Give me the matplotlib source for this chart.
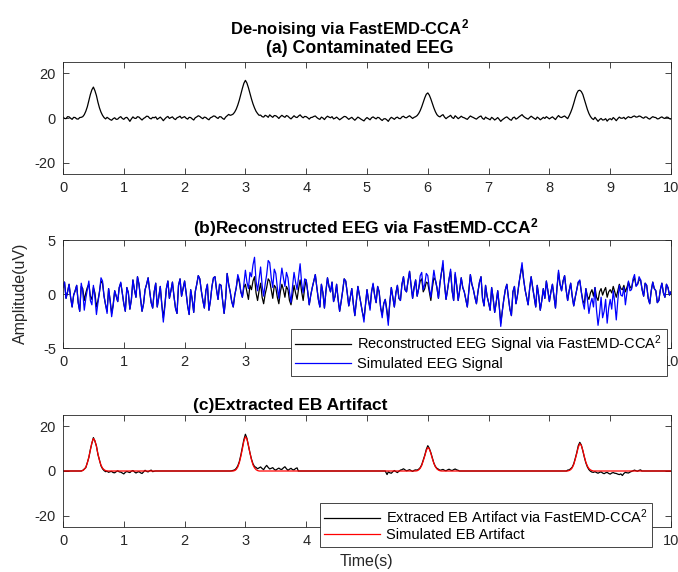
import numpy as np
import matplotlib
matplotlib.use("Agg")
import matplotlib.pyplot as plt

# ---------------- data ----------------
t_step = 0.025
t_eeg = [round(i * t_step, 3) for i in range(401)]

contaminated = [
    0.4, -0.2, -0.3, 0.6, 0.5, -0.1, -0.6, 0.3, 0.2, -0.4, -0.5, 0.2, 0.3, 0.6, 1.5, 3.0, 5.0, 7.8, 10.5, 12.6,
    13.8, 12.2, 10.0, 7.0, 4.5, 2.6, 1.2, 0.2, -0.4, 0.3, -0.2, -0.7, -1.0, -0.3, 0.1, -0.6, -0.5, 0.2, 0.6, -0.2,
    -0.6, 0.1, 0.3, -0.5, -1.5, -0.4, 0.5, -0.1, -0.2, 0.6, 0.4, -0.3, -0.9, -0.2, 0.2, 0.8, 0.7, -0.1, -0.4, 0.3,
    0.1, 0.5, -0.6, -0.1, 0.4, -0.3, -1.2, -0.4, 0.3, 0.7, -0.2, 0.2, 0.5, -0.3, -0.7, 0.1, 0.4, 0.8, -0.1, 0.3,
    0.6, -0.1, -0.5, 0.3, 0.2, -0.4, -0.9, 0.1, 0.5, 1.0, 0.7, 0.1, -0.3, 0.4, 0.2, -0.4, -0.8, 0.1, 0.4, 0.9,
    0.8, 0.2, -0.2, 0.6, 0.5, -0.2, -0.6, 0.4, 1.0, 1.6, 1.2, 1.4, 1.8, 2.7, 4.0, 5.8, 8.0, 10.6, 13.2, 15.5,
    16.8, 15.6, 13.5, 11.0, 8.5, 6.3, 4.5, 3.0, 2.0, 1.2, 1.3, 0.6, 0.4, 1.2, 0.9, 0.3, 1.4, 0.8, 0.3, 1.1,
    1.0, 0.5, -0.2, 0.6, 1.2, 0.7, 0.3, 1.1, 0.8, 0.1, -0.4, 0.3, 1.0, 0.4, 0.2, 0.9, 1.4, 0.6, 0.1, 0.7,
    0.6, 0.1, -0.5, 0.2, 0.3, 0.7, 0.9, 0.2, -0.3, -0.6, 0.4, 0.0, -0.7, 0.2, 0.8, 0.4, 0.1, 0.6, -0.4, -0.1,
    0.4, -0.2, -0.8, -0.3, 0.2, 0.7, 0.6, 0.0, -0.6, -0.1, 0.3, -0.4, -1.0, -0.3, 0.4, 0.0, -0.5, -0.9, -1.3, -0.4,
    0.2, -0.3, -0.8, 0.1, 0.5, 0.0, -0.4, 0.3, 0.1, -0.6, -1.1, -0.4, -0.3, -0.8, -1.5, -0.4, 0.3, -0.1, -0.6, 0.1,
    0.4, -0.2, -0.3, 0.5, 0.8, 0.2, 0.1, 0.6, 1.0, 0.4, -0.2, 0.3, 0.6, 1.1, 2.0, 3.3, 5.0, 7.0, 9.0, 10.6,
    11.2, 10.2, 8.5, 6.5, 4.5, 2.8, 1.5, 0.8, 0.5, 1.1, 1.5, 0.4, -0.3, 0.3, 0.7, 1.2, 0.2, -0.2, 1.0, 0.4,
    -0.3, 0.2, 0.8, 0.3, 0.1, -0.3, -0.6, 0.2, 0.9, 0.5, 0.2, -0.2, -0.5, 0.1, 0.6, 0.9, -0.2, -0.6, 0.4, -0.1,
    -0.4, -0.8, 0.3, -0.2, -0.9, -0.4, 0.2, -0.6, -1.5, -0.8, -0.3, 0.2, 0.5, -0.1, -0.7, -1.0, 0.1, 0.4, -0.5, -0.1,
    0.5, 1.0, 1.5, 0.7, 0.2, -0.2, -0.5, 0.2, 0.8, 0.3, -0.2, -0.6, 0.4, -0.1, -0.8, -0.3, 0.3, -0.2, 0.6, 0.1,
    -0.4, 0.1, 0.5, -0.1, -0.7, 0.3, 1.1, 0.4, 0.2, 0.6, 0.9, 0.3, -0.3, 1.0, 2.5, 4.3, 6.5, 8.9, 11.0, 12.2,
    12.4, 11.8, 10.5, 8.3, 6.0, 3.8, 2.0, 0.7, -0.2, -0.7, 0.3, -0.6, -1.5, -0.7, -0.2, -0.9, -0.8, -0.3, -1.4, -0.6,
    -0.3, -0.8, 0.2, -0.4, -1.2, -0.3, 0.4, -0.1, -0.1, 0.3, -0.5, 0.1, 0.6, 0.2, 0.2, 0.7, 0.9, 0.4, 0.5, 0.9,
    0.7, 0.2, -0.1, 0.5, 0.4, -0.2, -0.5, 0.1, 0.6, 0.3, 0.2, -0.4, -0.3, 0.2, 0.5, 0.0, -0.2, 0.4, 0.3, -0.3,
    -0.5]

simulated_eeg = [
    0.6, 1.1, -0.4, 0.2, 0.9, -0.3, -1.2, -0.1, 0.3, 0.8, -0.8, -1.6, 1.0, 0.2, -1.5, -0.4, 0.4, 1.2, -0.6, -1.0,
    0.8, -0.3, -1.9, -0.8, 0.2, 1.5, 1.2, -0.2, -1.0, -1.8, 0.5, -0.6, -2.1, -1.1, 0.3, -0.2, -0.7, 0.6, 1.1, 0.1,
    -0.9, -1.6, 0.6, 0.1, -1.4, -0.5, 1.3, 0.4, -0.3, 1.6, 0.9, -0.4, -1.6, -0.9, 0.4, 0.9, 1.5, 0.3, -0.8, -1.3,
    0.2, 1.0, -1.2, -0.3, 0.7, -1.0, -2.6, -1.2, 0.5, 1.2, -0.4, 0.3, 1.1, -0.2, -1.3, -1.8, 0.8, 1.4, -0.2, 0.5,
    1.2, 0.1, -1.1, -1.9, 0.4, -0.5, -1.7, 0.2, 0.9, 1.7, 1.4, 0.3, -0.6, -1.3, 0.3, 0.9, -1.5, -0.6, 0.7, 1.5,
    1.6, 0.4, -0.5, 0.9, 0.8, -0.6, -1.8, -0.4, 1.9, 0.9, 0.2, -0.7, -1.2, -0.1, 0.6, 1.8, 1.3, 0.2, -0.3, 0.9,
    2.2, 1.1, 0.5, 2.0, 1.6, 2.7, 3.4, 1.2, 0.3, 1.4, 2.5, 0.8, -0.2, 0.9, 1.8, 3.1, 2.9, 1.5, 0.6, 2.3,
    1.9, 0.6, -0.4, 1.2, 2.4, 1.5, 0.7, 2.0, 1.5, 0.2, -0.8, 0.7, 2.0, 1.1, 0.4, 1.6, 2.8, 1.0, 0.1, 1.4,
    1.3, 0.2, -1.0, -0.1, 0.6, 1.2, 1.8, 0.6, -0.5, -1.2, 0.9, 0.1, -1.3, 0.3, 1.5, 0.7, 0.2, 1.1, -0.7, -0.2,
    0.9, -0.5, -1.6, -0.7, 0.3, 1.4, 1.2, 0.1, -1.1, -0.3, 0.5, -0.9, -2.0, -0.6, 0.7, -0.1, -0.9, -1.7, -2.6, -1.0,
    0.4, -0.6, -1.5, 0.2, 1.0, -0.1, -0.8, 0.7, 0.2, -1.3, -2.2, -0.9, -0.5, -1.6, -2.9, -0.8, 0.6, -0.3, -1.2, 0.1,
    0.8, -0.4, -0.6, 0.9, 1.6, 0.4, 0.2, 1.2, 2.1, 0.8, -0.4, 0.6, 1.3, -0.2, 0.5, 1.7, 2.0, 0.4, 0.9, 1.9,
    1.7, 0.5, -0.3, 1.0, 2.2, 1.3, 0.6, -0.4, 1.0, 2.0, 3.1, 0.9, -0.5, 0.4, 1.4, 2.3, 0.3, -0.6, 2.0, 0.8,
    -0.6, 0.4, 1.5, 0.6, 0.2, -0.5, -1.2, 0.3, 1.8, 0.9, 0.4, -0.3, -0.9, 0.2, 1.1, 1.6, -0.4, -1.1, 0.8, -0.2,
    -0.8, -1.5, 0.6, -0.4, -1.7, -0.8, 0.3, -1.1, -3.0, -1.6, -0.5, 0.4, 0.9, -0.3, -1.4, -2.0, 0.2, 0.7, -0.9, -0.1,
    1.0, 1.9, 2.9, 1.4, 0.4, -0.3, -1.0, 0.5, 1.6, 0.6, -0.3, -1.2, 0.8, -0.2, -1.5, -0.6, 0.5, -0.4, 1.2, 0.3,
    -0.7, 0.2, 0.9, -0.2, -1.3, 0.6, 2.2, 0.9, 0.3, 1.2, 1.7, 0.4, -0.6, 0.3, 1.0, -0.2, -1.1, -0.3, 0.4, 1.1,
    1.3, 0.2, -0.8, -1.4, 0.5, -0.5, -1.8, -0.9, -0.4, -1.2, 0.6, -1.5, -2.9, -1.8, -0.3, -2.2, -1.6, -0.5, -2.7, -1.3,
    -0.5, -1.4, 0.3, -0.8, -2.4, -0.6, 0.8, -0.1, -0.2, 0.6, -1.0, 0.1, 1.2, 0.3, 0.4, 1.4, 1.8, 0.7, 0.9, 1.6,
    1.3, 0.4, -0.2, 1.0, 0.8, -0.4, -0.9, 0.3, 1.1, 0.5, 0.3, -0.8, -0.6, 0.4, 1.0, 0.1, -0.3, 0.9, 0.6, -0.1,
    0.2]

reconstructed_eeg = [
    0.6, 1.1, -0.4, 0.2, 0.9, -0.3, -1.2, -0.1, 0.3, 0.8, -0.8, -1.6, 0.7, 0.5, -0.6, 0.1, 0.6, 0.9, -0.2, -0.5,
    0.6, 0.1, -1.2, -0.6, 0.2, 1.2, 1.0, -0.2, -1.0, -1.6, 0.5, -0.6, -1.8, -1.0, 0.3, -0.2, -0.7, 0.6, 1.0, 0.1,
    -0.9, -1.6, 0.6, 0.1, -1.4, -0.5, 1.3, 0.4, -0.3, 1.6, 0.9, -0.4, -1.6, -0.9, 0.4, 0.9, 1.5, 0.3, -0.8, -1.3,
    0.2, 1.0, -1.2, -0.3, 0.7, -1.0, -2.2, -1.0, 0.5, 1.2, -0.4, 0.3, 1.1, -0.2, -1.3, -1.8, 0.8, 1.4, -0.2, 0.5,
    1.2, 0.1, -1.1, -1.9, 0.4, -0.5, -1.7, 0.2, 0.9, 1.7, 1.4, 0.3, -0.6, -1.3, 0.3, 0.9, -1.5, -0.6, 0.7, 1.5,
    1.6, 0.4, -0.5, 0.9, 0.8, -0.6, -1.8, -0.4, 1.9, 0.9, 0.2, -0.7, -1.2, -0.1, 0.6, 1.6, 1.1, 0.2, -0.3, 0.6,
    0.9, 0.2, -0.5, 0.8, 0.4, 1.2, 1.6, 0.1, -0.6, 0.3, 1.0, -0.3, -0.9, 0.0, 0.6, 1.4, 1.2, 0.4, -0.4, 0.8,
    0.6, -0.3, -0.9, 0.2, 0.9, 0.4, -0.3, 0.7, 0.4, -0.6, -1.0, -0.2, 0.8, 0.1, -0.5, 0.5, 1.3, 0.2, -0.6, 0.6,
    1.3, 0.2, -1.0, -0.1, 0.6, 1.2, 1.8, 0.6, -0.5, -1.2, 0.9, 0.1, -1.3, 0.3, 1.5, 0.7, 0.2, 1.1, -0.7, -0.2,
    0.9, -0.5, -1.6, -0.7, 0.3, 1.4, 1.2, 0.1, -1.1, -0.3, 0.5, -0.9, -2.0, -0.6, 0.7, -0.1, -0.9, -1.7, -2.3, -1.0,
    0.4, -0.6, -1.3, 0.2, 0.9, -0.1, -0.8, 0.7, 0.2, -1.3, -1.9, -0.9, -0.5, -1.4, -2.5, -0.8, 0.6, -0.3, -1.2, 0.1,
    0.8, -0.4, -0.6, 0.9, 1.6, 0.4, 0.2, 1.2, 2.1, 0.8, -0.4, 0.6, 1.3, -0.2, 0.5, 1.2, 1.4, 0.2, 0.5, 1.1,
    1.0, 0.2, -0.6, 0.6, 1.5, 1.3, 0.6, -0.4, 1.0, 2.0, 2.7, 0.9, -0.5, 0.4, 1.4, 2.1, 0.3, -0.6, 1.8, 0.8,
    -0.6, 0.4, 1.5, 0.6, 0.2, -0.5, -1.2, 0.3, 1.8, 0.9, 0.4, -0.3, -0.9, 0.2, 1.1, 1.6, -0.4, -1.1, 0.8, -0.2,
    -0.8, -1.5, 0.6, -0.4, -1.7, -0.8, 0.3, -1.1, -2.7, -1.6, -0.5, 0.4, 0.9, -0.3, -1.4, -2.0, 0.2, 0.7, -0.9, -0.1,
    1.0, 1.9, 2.6, 1.4, 0.4, -0.3, -1.0, 0.5, 1.6, 0.6, -0.3, -1.2, 0.8, -0.2, -1.5, -0.6, 0.5, -0.4, 1.2, 0.3,
    -0.7, 0.2, 0.9, -0.2, -1.3, 0.6, 2.0, 0.9, 0.3, 1.2, 1.7, 0.4, -0.6, 0.3, 1.0, -0.2, -1.1, -0.3, 0.4, 1.1,
    1.2, 0.2, -0.6, -0.9, 0.5, -0.2, -0.5, 0.1, 0.4, -0.2, 0.6, -0.3, -0.6, 0.2, 0.5, -0.1, 0.3, 0.6, -0.3, 0.2,
    0.4, 0.1, 0.7, 0.2, -0.3, 0.3, 0.9, 0.5, 0.4, 0.8, 0.2, 0.6, 1.1, 0.7, 0.5, 1.2, 1.5, 0.8, 0.9, 1.3,
    1.3, 0.4, -0.2, 1.0, 0.8, -0.4, -0.9, 0.3, 1.1, 0.5, 0.3, -0.8, -0.6, 0.4, 1.0, 0.1, -0.3, 0.9, 0.6, -0.1,
    0.2]

# simulated EB artifact (breakpoints)
sim_art_t = [0.0,
    0.300, 0.325, 0.350, 0.375, 0.400, 0.425, 0.450, 0.475, 0.500,
    0.525, 0.550, 0.575, 0.600, 0.625, 0.650, 0.675, 0.700, 0.725,
    2.800, 2.825, 2.850, 2.875, 2.900, 2.925, 2.950, 2.975, 3.000,
    3.025, 3.050, 3.075, 3.100, 3.125, 3.150, 3.175, 3.200, 3.225,
    5.800, 5.825, 5.850, 5.875, 5.900, 5.925, 5.950, 5.975, 6.000,
    6.025, 6.050, 6.075, 6.100, 6.125, 6.150, 6.175, 6.200, 6.225,
    8.300, 8.325, 8.350, 8.375, 8.400, 8.425, 8.450, 8.475, 8.500,
    8.525, 8.550, 8.575, 8.600, 8.625, 8.650, 8.675, 8.700, 8.725,
    10.0]
sim_art_v = [0.0,
    0.0, 0.2, 0.7, 1.7, 3.5, 6.2, 9.3, 12.6, 14.5,
    13.6, 10.9, 7.6, 4.7, 2.6, 1.3, 0.6, 0.2, 0.0,
    0.0, 0.2, 0.7, 1.8, 3.7, 6.5, 9.8, 13.3, 15.3,
    14.3, 11.5, 8.0, 5.0, 2.7, 1.4, 0.6, 0.2, 0.0,
    0.0, 0.1, 0.5, 1.2, 2.5, 4.5, 6.7, 9.1, 10.5,
    9.8, 7.9, 5.5, 3.4, 1.9, 0.9, 0.4, 0.1, 0.0,
    0.0, 0.2, 0.6, 1.4, 2.9, 5.2, 7.8, 10.6, 12.2,
    11.4, 9.2, 6.4, 3.9, 2.2, 1.1, 0.5, 0.2, 0.0,
    0.0]

# extracted EB artifact (breakpoints)
ext_art_t = [0.0, 0.300,
    0.325, 0.350, 0.375, 0.400, 0.425, 0.450, 0.475, 0.500, 0.525,
    0.550, 0.575, 0.600, 0.625, 0.650, 0.675, 0.700,
    0.725, 0.75, 0.775, 0.80, 0.825, 0.85, 0.875, 0.90, 0.925, 0.95, 0.975, 1.00,
    1.025, 1.05, 1.075, 1.10, 1.125, 1.15, 1.175, 1.20, 1.225, 1.25, 1.275, 1.30,
    1.325, 1.35, 1.375, 1.40, 1.425, 1.45, 1.475, 1.50, 1.52,
    2.750, 2.775, 2.800, 2.825, 2.850, 2.875, 2.900, 2.925, 2.950,
    2.975, 3.000, 3.025, 3.050, 3.075, 3.100, 3.125, 3.150, 3.175,
    3.20, 3.225, 3.25, 3.275, 3.30, 3.325, 3.35, 3.375, 3.40, 3.425, 3.45, 3.475,
    3.50, 3.525, 3.55, 3.575, 3.60, 3.625, 3.65, 3.675, 3.70, 3.725, 3.75, 3.775,
    3.80, 3.825, 3.85, 3.87,
    5.30, 5.33, 5.35, 5.375, 5.40, 5.425, 5.45, 5.475, 5.50, 5.525, 5.55, 5.575,
    5.60, 5.625, 5.65, 5.675, 5.70, 5.725, 5.75, 5.775, 5.80,
    5.825, 5.850, 5.875, 5.900, 5.925, 5.950, 5.975,
    6.000, 6.025, 6.050, 6.075, 6.100, 6.125, 6.150, 6.175, 6.20,
    6.225, 6.25, 6.275, 6.30, 6.325, 6.35, 6.375, 6.40, 6.425, 6.45, 6.475, 6.50, 6.52,
    8.280, 8.300, 8.325, 8.350, 8.375, 8.400, 8.425, 8.450, 8.475,
    8.500, 8.525, 8.550, 8.575, 8.600, 8.625, 8.650, 8.675, 8.70,
    8.725, 8.75, 8.775, 8.80, 8.825, 8.85, 8.875, 8.90, 8.925, 8.95, 8.975, 9.00,
    9.025, 9.05, 9.075, 9.10, 9.125, 9.15, 9.175, 9.20, 9.225, 9.25, 9.275, 9.30,
    9.325, 9.35, 9.375, 9.40, 9.425, 9.45, 9.475, 9.50, 9.52, 10.0]
ext_art_v = [0.0, 0.0,
    0.3, 0.9, 1.5, 3.8, 6.0, 9.6, 12.4, 14.9, 13.3,
    11.2, 7.3, 4.9, 2.3, 1.0, 0.2, -0.3,
    -0.1, -0.6, -0.3, -0.2, -0.7, -0.8, -0.3, 0.1, -0.4, -0.5, -0.9, -1.3,
    -0.6, -0.2, -0.5, -0.7, -0.1, 0.2, -0.4, -0.9, -0.5, -0.3, -0.8, -1.1,
    -0.4, 0.3, -0.2, -0.4, 0.1, 0.4, -0.3, -0.1, 0.0,
    0.0, 0.1, 0.3, 0.5, 1.2, 2.3, 4.2, 7.1, 10.6,
    14.0, 16.4, 14.6, 11.2, 8.1, 5.3, 3.2, 2.0, 1.6,
    1.0, 1.4, 1.8, 1.1, 0.6, 1.7, 2.5, 1.6, 0.9, 1.2, 1.5, 0.7,
    0.4, 0.9, 1.3, 0.8, 0.7, 1.4, 1.9, 1.0, 0.3, 0.8, 1.2, 0.6,
    0.5, 1.1, 1.4, 0.0,
    0.0, -1.6, -0.4, -0.8, -1.0, -0.3, 0.2, -0.3, -0.7, -0.1, 0.4, 0.6,
    1.0, 0.5, 0.1, 0.3, 0.6, 0.2, -0.2, 0.3, 0.5,
    0.4, 0.8, 1.5, 2.8, 4.9, 7.0, 9.6,
    11.3, 10.1, 8.2, 5.8, 3.5, 2.0, 1.2, 0.8, 0.3,
    0.5, 0.7, 0.3, 0.1, 0.5, 0.8, 0.4, 0.2, 0.6, 0.9, 0.5, 0.3, 0.0,
    0.0, 0.4, 0.5, 1.0, 1.7, 3.2, 5.6, 8.2, 11.3,
    12.8, 11.6, 9.0, 6.1, 3.6, 1.8, 0.6, -0.1, -0.5,
    -0.6, -0.3, -0.7, -1.0, -0.6, -0.4, -0.9, -1.2, -0.8, -0.6, -1.1, -1.4,
    -0.9, -0.7, -1.0, -1.1, -1.4, -1.6, -1.3, -2.0, -1.1, -0.6, -0.8, -0.9,
    -0.5, -0.2, 0.1, 0.4, 0.1, -0.1, 0.3, 0.5, 0.0, 0.0]

x_ticks = [0, 1, 2, 3, 4, 5, 6, 7, 8, 9, 10]
yticks_a = [-20, 0, 20]
yticks_b = [-5, 0, 5]
yticks_c = [-20, 0, 20]

title_a1 = 'De-noising via FastEMD-CCA$^{\\mathbf{2}}$'
title_a2 = '(a) Contaminated EEG'
title_b = '(b)Reconstructed EEG via FastEMD-CCA$^{\\mathbf{2}}$'
title_c = '(c)Extracted EB Artifact'
legend_b = ['Reconstructed EEG Signal via FastEMD-CCA$^{2}$', 'Simulated EEG Signal']
legend_c = ['Extraced EB Artifact via FastEMD-CCA$^{2}$', 'Simulated EB Artifact']

# ---------------- style ----------------
plt.rcParams['font.family'] = ['Liberation Sans', 'DejaVu Sans']
plt.rcParams['mathtext.fontset'] = 'custom'
plt.rcParams['mathtext.rm'] = 'Liberation Sans'
plt.rcParams['mathtext.it'] = 'Liberation Sans:italic'
plt.rcParams['mathtext.bf'] = 'Liberation Sans:bold'
plt.rcParams['axes.unicode_minus'] = False

W, H = 678, 572
fig = plt.figure(figsize=(W / 100, H / 100), dpi=100)

def px_axes(left, top, right, bottom):
    return fig.add_axes([left / W, 1 - bottom / H, (right - left) / W, (bottom - top) / H])

ax_a = px_axes(63, 62, 671, 174)
ax_b = px_axes(63, 240, 671, 348)
ax_c = px_axes(63, 415, 671, 527)

edge = '#262626'
for ax, yt, yl in [(ax_a, yticks_a, (-25, 25)), (ax_b, yticks_b, (-5, 5)), (ax_c, yticks_c, (-25, 25))]:
    ax.set_xlim(0, 10)
    ax.set_ylim(*yl)
    ax.set_xticks(x_ticks)
    ax.set_yticks(yt)
    ax.tick_params(direction='in', top=True, right=True, length=4, width=0.6,
                   labelsize=10.5, colors=edge, labelcolor='#262626', pad=5)
    for s in ax.spines.values():
        s.set_linewidth(0.6)
        s.set_color(edge)

# tick labels hidden behind the legends in the reference
ax_b.set_xticklabels(['0', '1', '2', '3', '', '', '', '', '', '', '10'])
ax_c.set_xticklabels(['0', '1', '2', '3', '4', '', '', '', '', '', '10'])

# (a)
ax_a.plot(t_eeg, contaminated, color='black', lw=0.9)
fig.text(350 / W, 1 - 34 / H, title_a1, ha='center', va='baseline', fontsize=12, fontweight='bold')
fig.text(360 / W, 1 - 53 / H, title_a2, ha='center', va='baseline', fontsize=12.8, fontweight='bold')

# (b)
lb1, = ax_b.plot(t_eeg, reconstructed_eeg, color='black', lw=0.9)
lb2, = ax_b.plot(t_eeg, simulated_eeg, color='blue', lw=0.9)
fig.text(193 / W, 1 - 233 / H, title_b, ha='left', va='baseline', fontsize=12.5, fontweight='bold')
leg_b = ax_b.legend([lb1, lb2], legend_b, loc='upper left',
                    bbox_to_anchor=(291 / W, 1 - 329 / H), bbox_transform=fig.transFigure,
                    fontsize=10.5, frameon=True, fancybox=False, edgecolor='#262626', framealpha=1,
                    handlelength=3.8, handletextpad=0.45, borderpad=0.3, labelspacing=0.15,
                    borderaxespad=0)
leg_b.get_frame().set_linewidth(0.6)
leg_b.set_zorder(10)

# (c)
lc1, = ax_c.plot(ext_art_t, ext_art_v, color='black', lw=0.9)
lc2, = ax_c.plot(sim_art_t, sim_art_v, color='red', lw=0.9)
fig.text(193 / W, 1 - 410 / H, title_c, ha='left', va='baseline', fontsize=12.5, fontweight='bold')
leg_c = ax_c.legend([lc1, lc2], legend_c, loc='upper left',
                    bbox_to_anchor=(320 / W, 1 - 503 / H), bbox_transform=fig.transFigure,
                    fontsize=10.5, frameon=True, fancybox=False, edgecolor='#262626', framealpha=1,
                    handlelength=3.8, handletextpad=0.45, borderpad=0.3, labelspacing=0.15,
                    borderaxespad=0)
leg_c.get_frame().set_linewidth(0.6)
leg_c.set_zorder(10)

fig.text(20 / W, 1 - 293 / H, 'Amplitude(uV)', rotation=90, ha='center', va='center',
         fontsize=11.5, color='#262626')
fig.text(366 / W, 1 - 554 / H, 'Time(s)', ha='center', va='top', fontsize=11.5, color='#262626')

fig.savefig('out.png', dpi=100, facecolor='white')
